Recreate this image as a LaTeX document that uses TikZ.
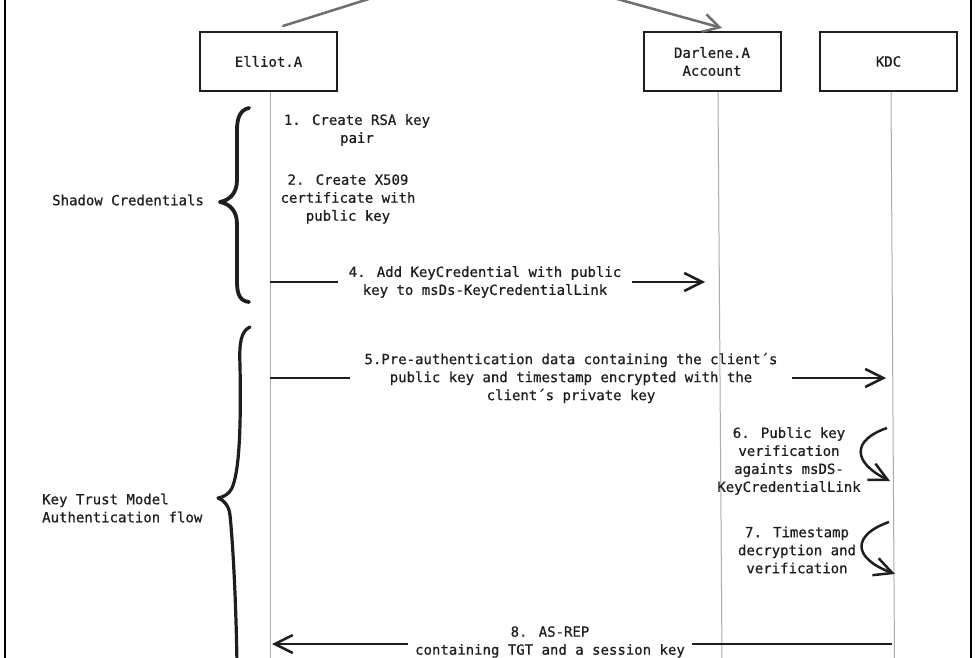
\documentclass[tikz,border=0pt]{standalone}
\usepackage{fontspec}
\setmainfont[FakeBold=0.6]{DejaVu Sans Mono}
\usetikzlibrary{arrows.meta}
\definecolor{ink}{HTML}{1E1E1E}
\definecolor{lifegray}{HTML}{ABABAB}
\definecolor{topgray}{HTML}{6E6E6E}
\tikzset{
  actor/.style={draw=ink, line width=2pt, minimum width=137pt, minimum height=59pt,
    inner sep=0pt, align=center, text=ink, font=\fontsize{14}{18}\selectfont},
  lifeline/.style={draw=lifegray, line width=1pt},
  msgtext/.style={align=center, inner ysep=0pt, text=ink, font=\fontsize{14}{18}\selectfont},
  notetext/.style={align=left, inner sep=0pt, text=ink, font=\fontsize{14}{18}\selectfont},
  msgline/.style={draw=ink, line width=2.5pt},
  msgarrow/.style={-{Straight Barb[length=18pt,width=18pt]}},
  topline/.style={draw=topgray, line width=2.5pt},
  bracestroke/.style={draw=ink, line width=3.8pt, line cap=round, line join=round},
  framestroke/.style={draw=black, line width=2.5pt}
}
\begin{document}
\begin{tikzpicture}[x=1pt,y=-1pt]
\useasboundingbox (0,0) rectangle (978,658);
\clip (0,0) rectangle (978,658);
\fill[white] (0,0) rectangle (978,658);

% frame
\draw[framestroke] (5,-5) -- (5,665);
\draw[framestroke] (971,-5) -- (971,665);

% actors
\node[actor] (elliot) at (268.5,61.5) {Elliot.A};
\node[actor] (darlene) at (712,61.5) {Darlene.A\\Account};
\node[actor] (kdc) at (888.5,61.5) {KDC};

% lines from above
\coordinate (topL) at (375,-3);
\coordinate (upA) at (283,26);
\coordinate (topR) at (610,-3);
\coordinate (upB) at (722,28);
\draw[topline, line cap=round] (topL) -- (upA);
\draw[topline, -{Straight Barb[length=16pt,width=18pt]}] (topR) -- (upB);

% lifelines
\coordinate (eBot) at (270,662);
\coordinate (dBot) at (722,662);
\coordinate (kBot) at (894.5,662);
\draw[lifeline] (elliot.south -| eBot) -- (eBot);
\draw[lifeline] ([xshift=6pt]darlene.south) -- (dBot);
\draw[lifeline] ([xshift=2.5pt]kdc.south) -- (kBot);

% braces
\draw[bracestroke] (249,108) .. controls (240,110) and (237,118) .. (237,130)
  -- (237,180) .. controls (237,193) and (230,200) .. (220,202)
  .. controls (230,204) and (237,211) .. (237,224)
  -- (237,282) .. controls (237,296) and (241,301) .. (249,302);
\draw[bracestroke, line width=3.2pt] (250,327) .. controls (241,331) and (239,343) .. (240,365)
  .. controls (241,420) and (240,470) .. (232,488)
  .. controls (229,494) and (224,497) .. (218,498)
  .. controls (224,500) and (229,506) .. (230,515)
  .. controls (233,545) and (236,600) .. (237,665);

% group labels
\node[notetext, anchor=west] (shadow) at (52,200) {Shadow Credentials};
\node[notetext, anchor=west] (keytrust) at (42,508) {Key Trust Model\\Authentication flow};

% steps 1 and 2
\node[msgtext] (m1) at (357,130) {1. Create RSA key\\pair};
\node[msgtext] (m2) at (348,199) {2. Create X509\\certificate with\\public key};

% step 4
\coordinate (e4) at (270,282);
\coordinate (d4) at (705,282);
\node[msgtext, inner xsep=11pt] (m4) at (485,282) {4. Add KeyCredential with public\\key to msDs-KeyCredentialLink};
\draw[msgline] (e4) -- (m4.west |- e4);
\draw[msgline, msgarrow] (m4.east |- e4) -- (d4);

% step 5
\coordinate (e5) at (270,378);
\coordinate (k5) at (886,378);
\node[msgtext, inner xsep=14pt] (m5) at (571,378) {5.Pre-authentication data containing the client´s\\public key and timestamp encrypted with the\\client´s private key};
\draw[msgline] (e5) -- (m5.west |- e5);
\draw[msgline, msgarrow] (m5.east |- e5) -- (k5);

% step 6
\coordinate (k6s) at (887,428);
\coordinate (k6e) at (890,481);
\node[msgtext] (m6) at (789,461) {6. Public key\\verification\\againts msDS-\\KeyCredentialLink};
\draw[msgline, msgarrow] (k6s) .. controls (852,440) and (852,462) .. (k6e);

% step 7
\coordinate (k7s) at (889,522);
\coordinate (k7e) at (895,574);
\node[msgtext] (m7) at (797,550) {7. Timestamp\\decryption and\\verification};
\draw[msgline, msgarrow] (k7s) .. controls (852,535) and (852,558) .. (k7e);

% step 8
\coordinate (k8) at (892,644);
\coordinate (e8) at (272,644);
\node[msgtext, inner xsep=7pt] (m8) at (550,642) {8. AS-REP\\containing TGT and a session key};
\draw[msgline] (k8) -- (m8.east |- k8);
\draw[msgline, msgarrow] (m8.west |- k8) -- (e8);
\end{tikzpicture}
\end{document}
